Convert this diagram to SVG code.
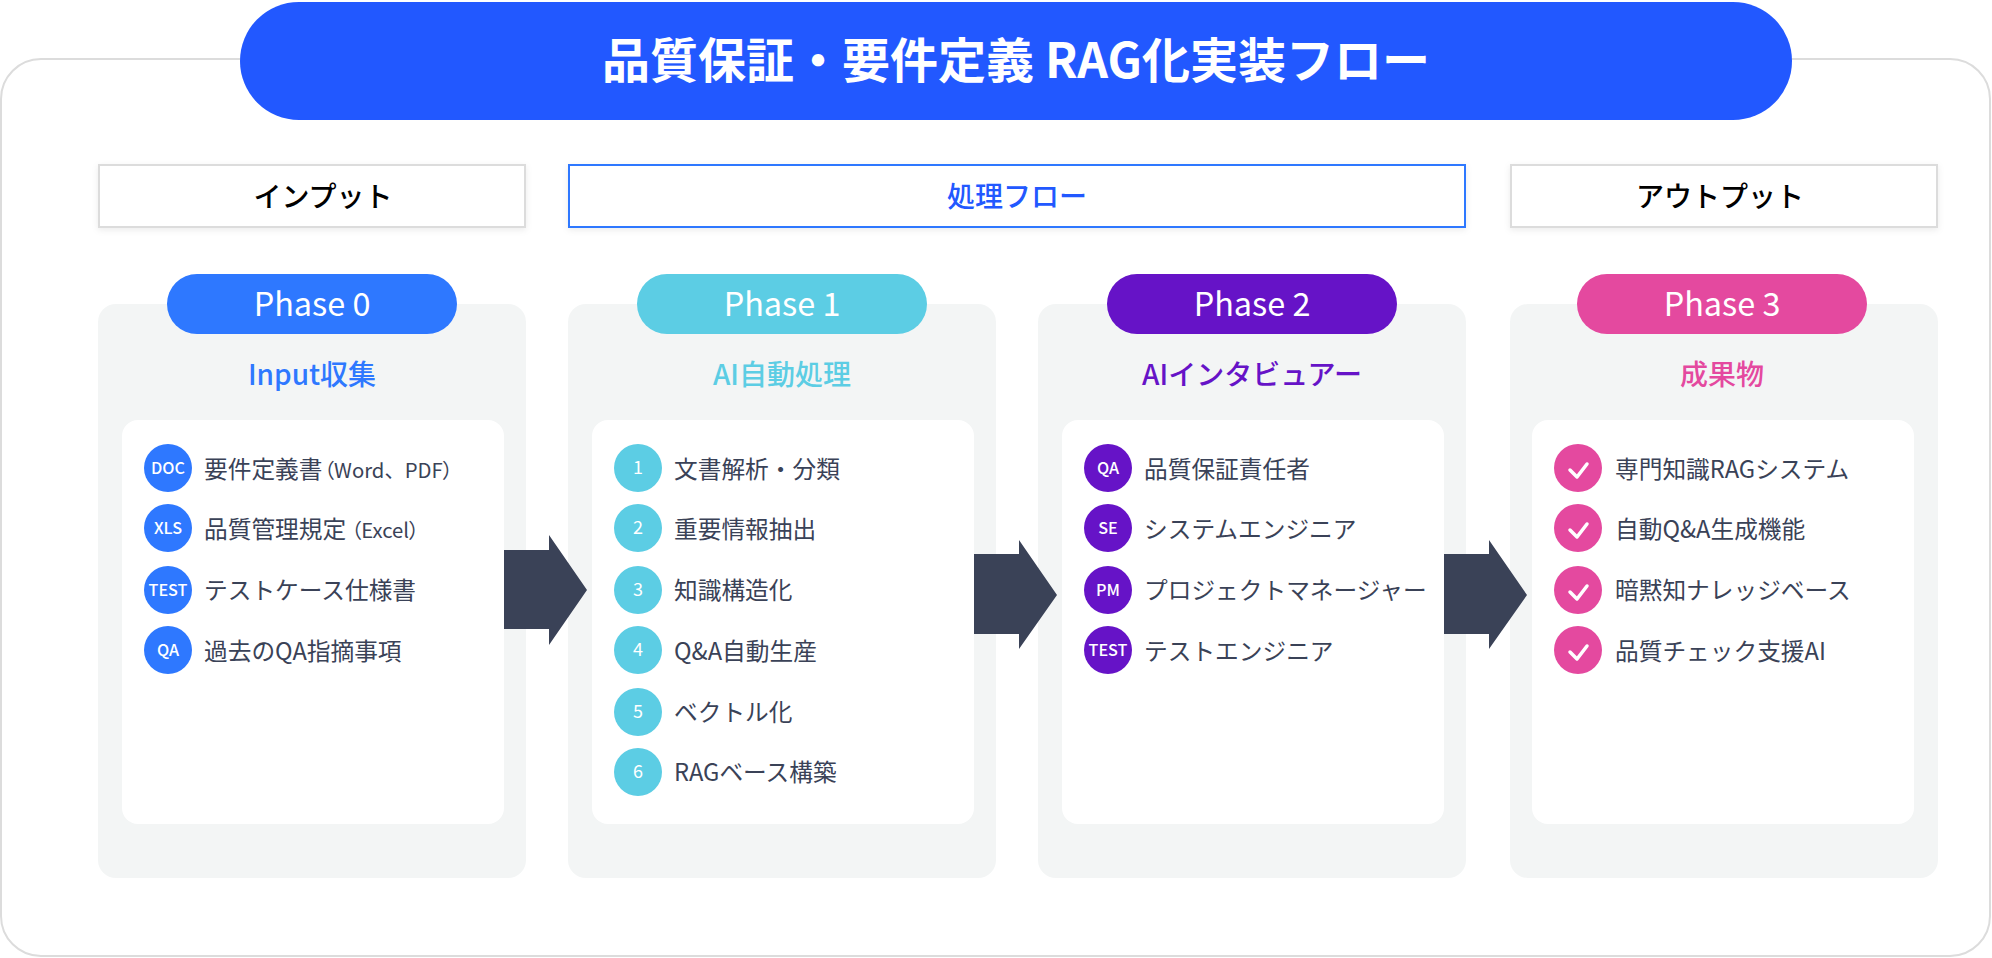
<svg xmlns="http://www.w3.org/2000/svg" width="1992" height="958" viewBox="0 0 1992 958">
<defs>
<filter id="sh" x="-5%" y="-20%" width="110%" height="150%"><feDropShadow dx="0" dy="2" stdDeviation="3" flood-color="#000" flood-opacity="0.08"/></filter>
</defs>
<style>
text{font-family:"Noto Sans CJK JP","Noto Sans",sans-serif;}
.c{text-anchor:middle}
.lab{font-size:23.7px;fill:#3a4257}
.sm{font-size:20.3px}
.pal{font-feature-settings:"palt"}
.ic{font-size:16.2px;fill:#fff;text-anchor:middle;font-weight:500}
.num{font-size:18px;fill:#fff;text-anchor:middle}
.ph{font-size:32.4px;fill:#fff;text-anchor:middle}
.sec{font-size:28px;text-anchor:middle;font-weight:500}
.hd{font-size:28px;text-anchor:middle;font-weight:500}
.card{fill:#f3f5f5}
.panel{fill:#fff}
</style>
<rect id="frame" x="1" y="59" width="1989" height="897" rx="40" fill="#fff" stroke="#dcdcdc" stroke-width="2"/>
<g id="title"><rect x="240" y="2" width="1552" height="118" rx="59" fill="#2258ff"/><text x="1016" y="78" class="c" font-size="48" font-weight="700" fill="#fff">品質保証・要件定義 RAG化実装フロー</text></g>
<g id="head-input"><rect x="99" y="165" width="426" height="62" fill="#fff" stroke="#dcdcdc" stroke-width="2" filter="url(#sh)"/><text x="323" y="207" class="hd" fill="#000">インプット</text></g>
<g id="head-flow"><rect x="569" y="165" width="896" height="62" fill="#fff" stroke="#2e78ff" stroke-width="2" filter="url(#sh)"/><text x="1017" y="207" class="hd" fill="#2258ff">処理フロー</text></g>
<g id="head-output"><rect x="1511" y="165" width="426" height="62" fill="#fff" stroke="#dcdcdc" stroke-width="2" filter="url(#sh)"/><text x="1720" y="207" class="hd" fill="#000">アウトプット</text></g>

<g id="phase0">
<rect class="card" x="98" y="304" width="428" height="574" rx="18"/>
<rect x="167" y="274" width="290" height="60" rx="30" fill="#2e78ff"/><text x="312" y="316" class="ph">Phase 0</text>
<text x="312" y="385" class="sec" fill="#2e78ff">Input収集</text>
<rect class="panel" x="122" y="420" width="382" height="404" rx="16"/>
<g fill="#2e78ff"><circle cx="168" cy="468" r="24"/><circle cx="168" cy="528" r="24"/><circle cx="168" cy="590" r="24"/><circle cx="168" cy="650" r="24"/></g>
<text x="168" y="474" class="ic">DOC</text><text x="168" y="534" class="ic">XLS</text><text x="168" y="596" class="ic">TEST</text><text x="168" y="656" class="ic">QA</text>
<text x="204" y="478" class="lab">要件定義書<tspan class="sm pal" dx="1.5">（Word</tspan><tspan class="sm">、</tspan><tspan class="sm pal">PDF）</tspan></text>
<text x="204" y="538" class="lab">品質管理規定<tspan class="sm pal" dx="5">（Excel）</tspan></text>
<text x="204" y="599" class="lab">テストケース仕様書</text>
<text x="204" y="660" class="lab">過去のQA指摘事項</text>
</g>

<g id="phase1">
<rect class="card" x="568" y="304" width="428" height="574" rx="18"/>
<rect x="637" y="274" width="290" height="60" rx="30" fill="#5ccde4"/><text x="782" y="316" class="ph">Phase 1</text>
<text x="782" y="385" class="sec" fill="#5ccde4">AI自動処理</text>
<rect class="panel" x="592" y="420" width="382" height="404" rx="16"/>
<g fill="#5ccde4"><circle cx="638" cy="468" r="24"/><circle cx="638" cy="528" r="24"/><circle cx="638" cy="590" r="24"/><circle cx="638" cy="650" r="24"/><circle cx="638" cy="712" r="24"/><circle cx="638" cy="772" r="24"/></g>
<text x="638" y="474" class="num">1</text><text x="638" y="534" class="num">2</text><text x="638" y="596" class="num">3</text><text x="638" y="656" class="num">4</text><text x="638" y="718" class="num">5</text><text x="638" y="778" class="num">6</text>
<text x="674" y="478" class="lab">文書解析・分類</text>
<text x="674" y="538" class="lab">重要情報抽出</text>
<text x="674" y="599" class="lab">知識構造化</text>
<text x="674" y="660" class="lab">Q&amp;A自動生産</text>
<text x="674" y="721" class="lab">ベクトル化</text>
<text x="674" y="781" class="lab">RAGベース構築</text>
</g>

<g id="phase2">
<rect class="card" x="1038" y="304" width="428" height="574" rx="18"/>
<rect x="1107" y="274" width="290" height="60" rx="30" fill="#6613c7"/><text x="1252" y="316" class="ph">Phase 2</text>
<text x="1252" y="385" class="sec" fill="#6613c7">AIインタビュアー</text>
<rect class="panel" x="1062" y="420" width="382" height="404" rx="16"/>
<g fill="#6613c7"><circle cx="1108" cy="468" r="24"/><circle cx="1108" cy="528" r="24"/><circle cx="1108" cy="590" r="24"/><circle cx="1108" cy="650" r="24"/></g>
<text x="1108" y="474" class="ic">QA</text><text x="1108" y="534" class="ic">SE</text><text x="1108" y="596" class="ic">PM</text><text x="1108" y="656" class="ic">TEST</text>
<text x="1144" y="478" class="lab">品質保証責任者</text>
<text x="1144" y="538" class="lab">システムエンジニア</text>
<text x="1144" y="599" class="lab">プロジェクトマネージャー</text>
<text x="1144" y="660" class="lab">テストエンジニア</text>
</g>

<g id="phase3">
<rect class="card" x="1510" y="304" width="428" height="574" rx="18"/>
<rect x="1577" y="274" width="290" height="60" rx="30" fill="#e4499f"/><text x="1722" y="316" class="ph">Phase 3</text>
<text x="1722" y="385" class="sec" fill="#e4499f">成果物</text>
<rect class="panel" x="1532" y="420" width="382" height="404" rx="16"/>
<g fill="#e4499f"><circle cx="1578" cy="468" r="24"/><circle cx="1578" cy="528" r="24"/><circle cx="1578" cy="590" r="24"/><circle cx="1578" cy="650" r="24"/></g>
<g fill="none" stroke="#fff" stroke-width="3.5" stroke-linecap="round" stroke-linejoin="round"><path d="M1570 470l7 7 10-13"/><path d="M1570 530l7 7 10-13"/><path d="M1570 592l7 7 10-13"/><path d="M1570 652l7 7 10-13"/></g>
<text x="1615" y="478" class="lab">専門知識RAGシステム</text>
<text x="1615" y="538" class="lab">自動Q&amp;A生成機能</text>
<text x="1615" y="599" class="lab">暗黙知ナレッジベース</text>
<text x="1615" y="660" class="lab">品質チェック支援AI</text>
</g>

<g id="connectors" fill="#3a4257">
<path d="M504 550H549V535L587 590 549 645V629H504Z"/>
<path d="M974 554H1019V540L1057 595 1019 649V634H974Z"/>
<path d="M1444 554H1489V540L1527 595 1489 649V634H1444Z"/>
</g>
</svg>
